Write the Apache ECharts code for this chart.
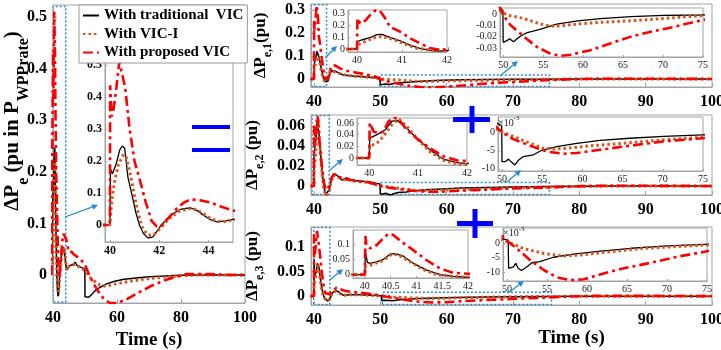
<!DOCTYPE html>
<html>
<head>
<meta charset="utf-8">
<script src="https://cdn.jsdelivr.net/npm/echarts@6/dist/echarts.min.js"></script>
<style>
  html, body { margin: 0; padding: 0; background: #fff; }
  #chart { width: 721px; height: 350px; }
</style>
</head>
<body>
<div id="chart"></div>
<script>
// series names (legend)
const names = ['With traditional  VIC', 'With VIC-I', 'With proposed VIC'];

// total ΔPe, [time s, pu]
const totTrad = [[39.5,0],[40,0],[40.02,0.175],[40.1,0.16],[40.25,0.19],[40.4,0.235],[40.5,0.247],[40.6,0.24],[40.73,0.15],[40.88,0.1],[41.05,0.04],[41.2,0.0],[41.35,-0.025],[41.55,-0.041],[41.75,-0.037],[42.04,-0.005],[42.3,0.018],[42.57,0.036],[42.9,0.05],[43.27,0.054],[43.55,0.045],[43.8,0.031],[44.1,0.016],[44.35,0.01],[44.7,0.013],[45.0,0.018],[45.5,0.019],[46.2,0.02],[46.9,0.025],[47.5,0.019],[48.4,0.016],[49.2,0.014],[49.96,0.012],[50.0,-0.042],[50.5,-0.041],[51.2,-0.043],[51.7,-0.04],[52.3,-0.036],[53.0,-0.031],[54.6,-0.024],[56.7,-0.017],[59.3,-0.012],[62.2,-0.008],[66,-0.0055],[70,-0.0032],[75,-0.0015],[80,-0.0003],[85,0],[100,0]];
const totVicI = [[39.5,0],[40,0],[40.02,0.03],[40.1,0.09],[40.2,0.14],[40.35,0.19],[40.55,0.22],[40.65,0.215],[40.8,0.17],[40.95,0.11],[41.1,0.05],[41.3,-0.005],[41.5,-0.028],[41.65,-0.032],[41.85,-0.026],[42.1,-0.005],[42.4,0.02],[42.8,0.043],[43.33,0.053],[43.7,0.04],[44.1,0.02],[44.5,0.01],[44.8,0.012],[45,0.017],[46,0.02],[47,0.021],[48,0.017],[49,0.013],[50,0.008],[51.4,-0.003],[52.5,-0.01],[54,-0.017],[55.5,-0.021],[57,-0.021],[59,-0.018],[61,-0.0155],[65,-0.011],[70,-0.0065],[75,-0.0035],[80,-0.001],[85,0],[100,0]];
const totProp = [[39.5,0],[40,0],[40.01,0.437],[40.07,0.34],[40.13,0.353],[40.25,0.42],[40.38,0.51],[40.45,0.51],[40.62,0.43],[40.8,0.3],[41.0,0.2],[41.2,0.145],[41.46,0.07],[41.7,0.012],[41.9,-0.004],[42.05,-0.004],[42.3,0.015],[42.72,0.052],[43.0,0.07],[43.27,0.08],[43.7,0.077],[44.1,0.07],[44.5,0.058],[45,0.045],[45.8,0.045],[46.5,0.04],[48.4,0.032],[50,0.02],[51,0.005],[52,-0.008],[53,-0.02],[54.5,-0.035],[56,-0.047],[57.8,-0.054],[60,-0.054],[63,-0.047],[67,-0.033],[71,-0.02],[75,-0.01],[78.6,-0.003],[81.8,0.002],[88,0.002],[94,0.0005],[100,0]];

// ΔPe,1
const e1Trad = [[39.5,0],[40,0],[40.01,0.061],[40.1,0.075],[40.29,0.094],[40.44,0.12],[40.55,0.121],[40.73,0.097],[40.96,0.067],[41.18,0.033],[41.4,0.006],[41.62,-0.012],[41.84,-0.017],[42.1,-0.01],[42.4,0.02],[42.7,0.037],[43.0,0.038],[43.4,0.031],[44.4,0.017],[45.9,0.013],[48.4,0.007],[49.96,0.0035],[50.0,-0.025],[50.46,-0.0235],[50.8,-0.022],[51.3,-0.0245],[51.7,-0.022],[52.3,-0.019],[53,-0.0165],[54.6,-0.0135],[56.7,-0.009],[59.3,-0.006],[62.2,-0.004],[66,-0.0024],[70.1,-0.0012],[74.7,-0.0009],[80,-0.0003],[85,0],[100,0]];
const e1VicI = [[39.5,0],[40,0],[40.01,0.033],[40.18,0.061],[40.4,0.097],[40.58,0.103],[40.8,0.081],[41.03,0.047],[41.33,0.006],[41.62,-0.008],[41.9,-0.008],[42.1,0.005],[42.4,0.033],[42.7,0.036],[43.2,0.03],[44.5,0.018],[46,0.012],[49,0.006],[49.6,0.003],[50.5,-0.001],[52.5,-0.0038],[54.6,-0.0088],[55.9,-0.0106],[57.2,-0.0106],[59.3,-0.0088],[62.2,-0.0074],[66,-0.006],[70.1,-0.004],[74.7,-0.0015],[80,-0.0003],[85,0],[100,0]];
const e1Prop = [[39.5,0],[40,0],[40.01,0.256],[40.07,0.214],[40.18,0.235],[40.29,0.283],[40.4,0.32],[40.51,0.318],[40.62,0.26],[40.73,0.186],[40.96,0.144],[41.18,0.089],[41.4,0.047],[41.62,0.008],[41.8,-0.004],[42.0,-0.006],[42.2,0.01],[42.5,0.045],[42.8,0.06],[43.2,0.058],[44.0,0.045],[44.9,0.036],[47.4,0.022],[49,0.013],[49.6,0.006],[50,-0.0009],[50.9,-0.0097],[52.6,-0.02],[54.2,-0.029],[55.9,-0.035],[57.2,-0.037],[58.4,-0.036],[60.9,-0.032],[63.4,-0.026],[66,-0.02],[68.5,-0.0156],[71,-0.012],[73.5,-0.0077],[75,-0.0053],[78,-0.002],[82,0.0008],[88,0.001],[100,0]];

// ΔPe,2
const e2Trad = [[39.5,0],[40,0],[40.01,0.034],[40.16,0.04],[40.33,0.0485],[40.46,0.063],[40.56,0.065],[40.77,0.051],[40.97,0.034],[41.24,0.014],[41.52,-0.002],[41.79,-0.008],[42.0,-0.0095],[42.3,-0.004],[42.6,0.006],[42.9,0.012],[43.4,0.011],[44.2,0.006],[44.9,0.008],[45.9,0.0055],[48.4,0.004],[49.5,0.0025],[49.96,0.0019],[50.0,-0.008],[50.4,-0.008],[50.8,-0.0073],[51.2,-0.0082],[51.6,-0.0089],[52,-0.0077],[52.65,-0.0066],[53.9,-0.0061],[54.9,-0.0049],[56.8,-0.0038],[59.3,-0.0029],[62.2,-0.0021],[65.9,-0.0015],[70.1,-0.001],[75,-0.00055],[80,-0.0002],[85,0],[100,0]];
const e2VicI = [[39.5,0],[40,0],[40.01,0.02],[40.16,0.026],[40.29,0.037],[40.46,0.057],[40.6,0.067],[40.77,0.054],[40.97,0.034],[41.24,0.011],[41.52,-0.004],[41.79,-0.01],[42.0,-0.011],[42.3,-0.005],[42.6,0.005],[42.9,0.011],[43.4,0.01],[44.2,0.006],[44.9,0.007],[45.9,0.005],[48.4,0.0035],[49.5,0.0008],[51.4,-0.001],[53.5,-0.0029],[55.1,-0.0043],[56.4,-0.0045],[58,-0.0043],[61,-0.0036],[65.1,-0.0029],[69.2,-0.0021],[75,-0.0012],[80,-0.0004],[85,0],[100,0]];
const e2Prop = [[39.5,0],[40,0],[40.01,0.0606],[40.09,0.045],[40.19,0.043],[40.29,0.045],[40.39,0.062],[40.5,0.07],[40.6,0.067],[40.77,0.048],[40.97,0.034],[41.24,0.017],[41.52,0.003],[41.79,-0.004],[42.0,-0.005],[42.3,0.0],[42.7,0.009],[43.1,0.012],[43.6,0.01],[44.5,0.007],[45.5,0.006],[48,0.004],[49.5,0.0012],[50,0.0001],[51.4,-0.00175],[53.5,-0.0036],[55.6,-0.0052],[57.6,-0.0058],[59.3,-0.0056],[62.2,-0.0047],[65.9,-0.0036],[70,-0.0024],[75,-0.0015],[79,-0.0004],[84,0.0003],[90,0.0002],[100,0]];

// ΔPe,3
const e3Trad = [[39.5,0],[40,0],[40.01,0.075],[40.05,0.04],[40.1,0.037],[40.23,0.042],[40.36,0.05],[40.49,0.067],[40.58,0.069],[40.74,0.061],[40.94,0.037],[41.2,0.015],[41.46,0.0],[41.71,-0.006],[42.1,-0.01],[42.4,-0.005],[42.8,0.007],[43.3,0.012],[43.8,0.008],[44.4,0.002],[45.5,0.003],[47,0.003],[50.15,0.001],[50.2,-0.0087],[50.8,-0.0082],[51.1,-0.007],[51.4,-0.0087],[51.8,-0.0095],[52.5,-0.0082],[53.1,-0.0068],[54.1,-0.0064],[55.8,-0.0049],[58.3,-0.0038],[61.7,-0.0028],[65.5,-0.0018],[70.1,-0.001],[74.7,-0.00045],[80,-0.0001],[85,0],[100,0]];
const e3VicI = [[39.5,0],[40,0],[40.01,0.026],[40.16,0.034],[40.36,0.047],[40.52,0.067],[40.65,0.064],[40.87,0.043],[41.13,0.017],[41.39,0.0],[41.71,-0.006],[42.1,-0.01],[42.4,-0.004],[42.8,0.007],[43.2,0.01],[43.8,0.006],[44.5,0.002],[45.5,0.003],[47,0.003],[49.75,0.0008],[52,-0.0018],[54.6,-0.0036],[57.1,-0.0045],[59.6,-0.004],[62.9,-0.003],[67.1,-0.0018],[71.3,-0.0012],[74.7,-0.0007],[80,-0.0002],[85,0],[100,0]];
const e3Prop = [[39.5,0],[40,0],[40.01,0.126],[40.03,0.097],[40.1,0.086],[40.23,0.097],[40.36,0.119],[40.45,0.133],[40.55,0.13],[40.71,0.108],[40.94,0.08],[41.2,0.047],[41.46,0.02],[41.71,0.006],[42,0.003],[42.3,0.004],[42.8,0.012],[43.4,0.017],[44.4,0.012],[45.4,0.009],[47,0.007],[49,0.004],[49.75,0.0013],[51.2,-0.0018],[52.9,-0.0059],[54.6,-0.0093],[56.2,-0.0118],[57.9,-0.0128],[59.6,-0.0125],[62.1,-0.0105],[64.6,-0.0087],[68,-0.0068],[71.3,-0.0047],[74.7,-0.003],[78,-0.001],[82,0.0005],[90,0.0006],[100,0]];

// tick labels
const ticksX60 = [40, 60, 80, 100];
const ticksX10 = [40, 50, 60, 70, 80, 90, 100];
const ticksXin = [40, 41, 42];
const ticksXin3 = [40, 40.5, 41, 41.5, 42];
const ticksXin44 = [40, 42, 44];
const ticksXlate = [50, 55, 60, 65, 70, 75];
const ticksYtot = [0, 0.1, 0.2, 0.3, 0.4, 0.5];
const ticksY1 = [0, 0.1, 0.2, 0.3];
const ticksY1late = [-0.03, -0.02, -0.01, 0];
const ticksY2 = [0, 0.02, 0.04, 0.06];
const ticksY3 = [0, 0.05, 0.1];
const ticksYmilli = [-0.01, -0.005, 0];

const SERIF = '"Liberation Serif", "Times New Roman", serif';
const FRAME = '#a3a3a3';
const BOXBLUE = '#2a8ad0';
const BLUE = '#0000ff';

const LINES = [
    {color: '#000000', width: 1.5, type: 'solid'},
    {color: '#D95319', width: 3, type: [2.5, 3]},
    {color: '#FF0000', width: 2.6, type: [10, 4, 3, 4]}
];

const rich = (big, small) => ({
    m: {fontFamily: SERIF, fontWeight: 'bold', fontSize: big, color: '#000', verticalAlign: 'top', lineHeight: big + 4},
    s: {fontFamily: SERIF, fontWeight: 'bold', fontSize: small, color: '#000', verticalAlign: 'top', padding: [Math.round(big * 0.6), 0, 0, 0]}
});

// grids: main panels and insets (left/top/width/height in px)
const grids = [
    {left: 53, top: 5, width: 192, height: 298},          // 0 total
    {left: 105, top: 58, width: 128, height: 184, inset: true}, // 1 total inset
    {left: 311, top: 4, width: 401, height: 83},          // 2 e1
    {left: 348, top: 10, width: 99, height: 42, inset: true},   // 3
    {left: 500, top: 8, width: 203, height: 49, inset: true},   // 4
    {left: 311, top: 115, width: 401, height: 80},        // 5 e2
    {left: 357, top: 118, width: 110, height: 47, inset: true}, // 6
    {left: 498, top: 117, width: 205, height: 54, inset: true}, // 7
    {left: 311, top: 227, width: 401, height: 78},        // 8 e3
    {left: 353, top: 230, width: 115, height: 48, inset: true}, // 9
    {left: 503, top: 228, width: 204, height: 53, inset: true}  // 10
];

// axis setup per grid: [xmin, xmax, xticks, ymin, ymax, yticks, kind]
const axes = [
    [40, 100, ticksX60, -0.054, 0.523, ticksYtot, 'main'],
    [39.8, 45, ticksXin44, -0.053, 0.522, ticksYtot, 'bigInset'],
    [39.55, 100, ticksX10, -0.035, 0.326, ticksY1, 'main'],
    [39.8, 42, ticksXin, -0.025, 0.325, ticksY1, 'inset'],
    [49.6, 75, ticksXlate, -0.038, 0.0053, ticksY1late, 'inset'],
    [39.55, 100, ticksX10, -0.009, 0.071, ticksY2, 'main'],
    [39.75, 42, ticksXin, -0.012, 0.0686, ticksY2, 'inset'],
    [49.5, 75, ticksXlate, -0.0106, 0.0044, ticksYmilli, 'milli'],
    [39.55, 100, ticksX10, -0.018, 0.141, ticksY3, 'main'],
    [39.77, 42, ticksXin3, -0.011, 0.146, ticksY3, 'inset'],
    [49.5, 75, ticksXlate, -0.0131, 0.0052, ticksYmilli, 'milli']
];

const labelStyle = (kind) => {
    if (kind === 'main') {
        return {fontFamily: SERIF, fontWeight: 'bold', fontSize: 16, color: '#000'};
    }
    if (kind === 'bigInset') {
        return {fontFamily: SERIF, fontWeight: 'bold', fontSize: 12, color: '#111'};
    }
    return {fontFamily: SERIF, fontSize: 10, color: '#222'};
};

const xAxis = [];
const yAxis = [];
axes.forEach((a, gi) => {
    const kind = a[6];
    const isInset = kind !== 'main';
    const z = isInset ? 11 : 1;
    xAxis.push({
        type: 'value', gridIndex: gi, min: a[0], max: a[1], z,
        axisLine: {show: true, onZero: false, lineStyle: {color: FRAME}},
        axisTick: {show: true, inside: true, length: isInset ? 2 : 4, customValues: a[2], lineStyle: {color: FRAME}},
        axisLabel: Object.assign({customValues: a[2], margin: isInset ? 3 : 7}, labelStyle(kind)),
        splitLine: {show: false}
    });
    yAxis.push({
        type: 'value', gridIndex: gi, min: a[3], max: a[4], z,
        axisLine: {show: true, onZero: false, lineStyle: {color: FRAME}},
        axisTick: {show: true, inside: true, length: isInset ? 2 : 4, customValues: a[5], lineStyle: {color: FRAME}},
        axisLabel: Object.assign({
            customValues: a[5], margin: isInset ? 3 : 6,
            formatter: kind === 'milli' ? (v) => String(Math.round(v * 1000)) : null
        }, labelStyle(kind)),
        splitLine: {show: false}
    });
});

// axis titles
xAxis[0].name = 'Time (s)';
xAxis[0].nameLocation = 'middle';
xAxis[0].nameGap = 25;
xAxis[0].nameTextStyle = {fontFamily: SERIF, fontWeight: 'bold', fontSize: 19, color: '#000'};
xAxis[8].name = 'Time (s)';
xAxis[8].nameLocation = 'middle';
xAxis[8].nameGap = 24;
xAxis[8].nameTextStyle = {fontFamily: SERIF, fontWeight: 'bold', fontSize: 19, color: '#000', padding: [0, 0, 0, 120]};

[[2, '{m|ΔP}{s|e,1}{m|(pu)}'], [5, '{m|ΔP}{s|e,2}{m| (pu)}'], [8, '{m|ΔP}{s|e,3}{m| (pu)}']].forEach(([gi, txt]) => {
    yAxis[gi].name = txt;
    yAxis[gi].nameLocation = 'middle';
    yAxis[gi].nameGap = 33;
    yAxis[gi].nameTextStyle = {rich: rich(17, 12)};
});

[7, 10].forEach((gi) => {
    yAxis[gi].name = '{b|×10}{p|-3}';
    yAxis[gi].nameLocation = 'end';
    yAxis[gi].nameGap = 2;
    yAxis[gi].nameTextStyle = {
        align: 'left', verticalAlign: 'top',
        rich: {
            b: {fontFamily: SERIF, fontSize: 10, color: '#222', verticalAlign: 'top', padding: [3, 0, 0, 0]},
            p: {fontFamily: SERIF, fontSize: 7, color: '#222', verticalAlign: 'top'}
        }
    };
});

// panels: which curves go into which grids, plus the dotted zoom boxes
const panels = [
    {curves: [totTrad, totVicI, totProp], grids: [0, 1],
        boxes: [[40.1, -0.052, 44, 0.52]]},
    {curves: [e1Trad, e1VicI, e1Prop], grids: [2, 3, 4],
        boxes: [[39.6, -0.033, 41.9, 0.323], [49.9, -0.033, 75.5, 0.017]]},
    {curves: [e2Trad, e2VicI, e2Prop], grids: [5, 6, 7],
        boxes: [[39.7, -0.0085, 42.3, 0.0705], [50, -0.0085, 75.5, 0.0035]]},
    {curves: [e3Trad, e3VicI, e3Prop], grids: [8, 9, 10],
        boxes: [[39.95, -0.017, 42.4, 0.14], [50.3, -0.017, 75.8, 0.008]]}
];

const series = [];
panels.forEach((p) => {
    p.grids.forEach((gi, n) => {
        const isInset = n > 0;
        p.curves.forEach((data, k) => {
            const st = LINES[k];
            const s = {
                name: names[k], type: 'line', data,
                xAxisIndex: gi, yAxisIndex: gi,
                symbol: 'none', showSymbol: false, clip: true,
                z: isInset ? 12 : 3,
                lineStyle: {color: st.color, width: (k === 0 && isInset) ? 1.3 : st.width, type: st.type},
                itemStyle: {color: st.color}
            };
            if (!isInset && k === 0) {
                s.markArea = {
                    silent: true,
                    itemStyle: {color: 'rgba(0,0,0,0)', borderColor: BOXBLUE, borderWidth: 1.5, borderType: [2, 2]},
                    data: p.boxes.map((b) => [{xAxis: b[0], yAxis: b[1]}, {xAxis: b[2], yAxis: b[3]}])
                };
            }
            series.push(s);
        });
    });
});

// blue arrows from the zoom boxes to the insets
const arrow = (x1, y1, x2, y2) => {
    const a = Math.atan2(y2 - y1, x2 - x1);
    const L = 6, W = 3;
    const c = Math.cos(a), s = Math.sin(a);
    return [
        {type: 'line', z: 50, shape: {x1, y1, x2: x2 - L * c * 0.6, y2: y2 - L * s * 0.6}, style: {stroke: BOXBLUE, lineWidth: 1.3}},
        {type: 'polygon', z: 50, shape: {points: [[x2, y2], [x2 - L * c + W * s, y2 - L * s - W * c], [x2 - L * c - W * s, y2 - L * s + W * c]]}, style: {fill: BOXBLUE}}
    ];
};
const bar = (x, y, w, h) => ({type: 'rect', z: 50, shape: {x, y, width: w, height: h}, style: {fill: BLUE}});

const graphic = [].concat(
    arrow(65, 217, 98, 205),
    arrow(325, 58, 337, 46),
    arrow(500, 76, 518, 61),
    arrow(330, 170, 343, 159),
    arrow(507, 182, 521, 170),
    arrow(330, 280, 343, 269),
    arrow(508, 293, 524, 281),
    [
        bar(192, 125, 38, 4), bar(192, 148, 38, 4),
        bar(453, 117, 37, 5), bar(469.5, 106, 5, 27),
        bar(457, 221, 36, 5), bar(472.5, 209, 5, 29),
        {
            type: 'text', z: 50, x: 17, y: 121, rotation: Math.PI / 2,
            style: {
                text: '{m|ΔP}{s|e}{m| (pu in P}{s|WPPrate}{m|)}',
                rich: rich(21, 16), align: 'center', verticalAlign: 'middle'
            }
        }
    ]
);

const option = {
    animation: false,
    backgroundColor: '#fff',
    grid: grids.map((g) => ({
        left: g.left, top: g.top, width: g.width, height: g.height,
        containLabel: false, outerBoundsMode: 'none',
        show: true, borderColor: FRAME, borderWidth: 1,
        backgroundColor: '#fff', z: g.inset ? 10 : 0
    })),
    legend: {
        data: names, left: 79, top: 5, orient: 'vertical',
        itemWidth: 16, itemHeight: 14, itemGap: 3.5,
        itemStyle: {opacity: 0},
        padding: [3, 4, 3, 3],
        backgroundColor: '#fff', borderColor: '#999', borderWidth: 1, z: 20,
        textStyle: {fontFamily: SERIF, fontWeight: 'bold', fontSize: 15, color: '#000'}
    },
    xAxis,
    yAxis,
    series,
    graphic
};

const chart = echarts.init(document.getElementById('chart'), null, {renderer: 'canvas'});
chart.setOption(option);
</script>
</body>
</html>
